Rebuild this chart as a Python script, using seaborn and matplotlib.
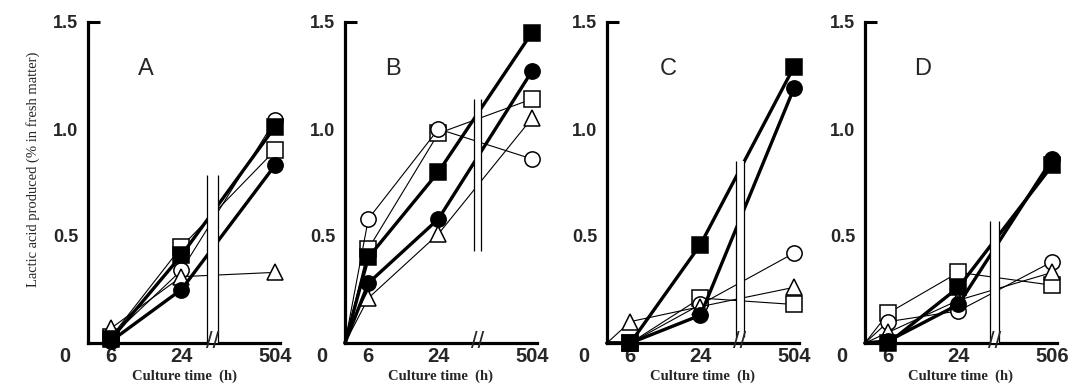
import numpy as np
import pandas as pd
import matplotlib
matplotlib.use("Agg")
import matplotlib.pyplot as plt
import matplotlib.transforms as mtransforms
import seaborn as sns

# Culture time (h) for each panel
times_A = [6, 24, 504]
times_B = [0, 6, 24, 504]
times_C = [0, 6, 24, 504]
times_D = [0, 6, 24, 506]

# Lactic acid produced (% in fresh matter)
# series: filled square, filled circle, open square, open circle, open triangle
A_filled_square = [0.02, 0.41, 1.01]
A_filled_circle = [0.01, 0.25, 0.83]
A_open_square = [0.03, 0.45, 0.90]
A_open_circle = [0.03, 0.34, 1.04]
A_open_triangle = [0.07, 0.31, 0.33]

B_filled_square = [0, 0.40, 0.80, 1.45]
B_filled_circle = [0, 0.28, 0.58, 1.27]
B_open_square = [0, 0.44, 0.98, 1.14]
B_open_circle = [0, 0.58, 1.00, 0.86]
B_open_triangle = [0, 0.21, 0.51, 1.05]

C_filled_square = [0, 0.00, 0.46, 1.29]
C_filled_circle = [0, 0.00, 0.13, 1.19]
C_open_square = [0, 0.00, 0.21, 0.18]
C_open_circle = [0, 0.00, 0.18, 0.42]
C_open_triangle = [0, 0.10, 0.17, 0.26]

D_filled_square = [0, 0.00, 0.26, 0.83]
D_filled_circle = [0, 0.01, 0.18, 0.86]
D_open_square = [0, 0.14, 0.33, 0.27]
D_open_circle = [0, 0.10, 0.15, 0.38]
D_open_triangle = [0, 0.05, 0.20, 0.33]

panel_names = ["A", "B", "C", "D"]
panel_times = [times_A, times_B, times_C, times_D]
panel_series = [
    [A_filled_square, A_filled_circle, A_open_square, A_open_circle, A_open_triangle],
    [B_filled_square, B_filled_circle, B_open_square, B_open_circle, B_open_triangle],
    [C_filled_square, C_filled_circle, C_open_square, C_open_circle, C_open_triangle],
    [D_filled_square, D_filled_circle, D_open_square, D_open_circle, D_open_triangle],
]
last_tick = ["504", "504", "504", "506"]

# marker, face colour, line width, zorder
styles = [
    ("s", "black", 2.4, 6),
    ("o", "black", 2.4, 5),
    ("s", "white", 0.8, 4),
    ("o", "white", 0.8, 4),
    ("^", "white", 0.8, 4),
]

# broken time axis: 0-24 h linear, then compressed
SQUEEZE = 0.05


def fwd(h):
    h = np.asarray(h, dtype=float)
    return np.where(h <= 24, h, 24 + (h - 24) * SQUEEZE)


def inv(p):
    p = np.asarray(p, dtype=float)
    return np.where(p <= 24, p, 24 + (p - 24) / SQUEEZE)


# break lines: (x0, x1) in compressed units, (y0, y1) in data units
breaks = [(30.6, 33.4, 0.0, 0.785), (33.0, 35.0, 0.43, 1.14),
          (33.0, 35.3, 0.03, 0.85), (32.0, 34.4, 0.0, 0.57)]
letter_x = [0.30, 0.25, 0.32, 0.30]

sns.set_style("white")
plt.rcParams["font.family"] = ["Liberation Sans", "DejaVu Sans"]

fig = plt.figure(figsize=(10.75, 3.9), dpi=100)
lefts = [88, 345, 607, 865]
ax_w = 192 / 1075
bottom = 1 - 343 / 390
height = (343 - 22) / 390

for i, name in enumerate(panel_names):
    ax = fig.add_axes([lefts[i] / 1075, bottom, ax_w, height])
    ax.set_xscale("function", functions=(fwd, inv))
    times = panel_times[i]
    start = 1 if times[0] == 0 else 0
    for vals, (mk, fc, lw, z) in zip(panel_series[i], styles):
        df = pd.DataFrame({"time": times, "lactic": vals})
        sns.lineplot(data=df, x="time", y="lactic", ax=ax, color="black",
                     lw=lw, marker=mk, markersize=11 if mk != "^" else 11.5,
                     markerfacecolor=fc, markeredgecolor="black",
                     markeredgewidth=1.1, markevery=slice(start, None),
                     errorbar=None, zorder=z, clip_on=False)

    x0, x1, y0, y1 = breaks[i]
    ax.fill_betweenx([y0, y1], inv(x0), inv(x1), color="white", zorder=7, lw=0)
    ax.vlines([inv(x0), inv(x1)], y0, y1, color="black", lw=0.9, zorder=8)
    trans = mtransforms.blended_transform_factory(ax.transData, ax.transAxes)
    ax.text(inv((x0 + x1) / 2), 0.002, "//", transform=trans, ha="center",
            va="center", fontsize=17, zorder=9)

    ax.set_xlim(0, inv(49.3))
    ax.set_ylim(0, 1.5)
    ax.set_xticks([6, 24, int(last_tick[i])])
    ax.set_xticklabels(["6", "24", last_tick[i]])
    ax.set_yticks([0.5, 1.0, 1.5])
    ax.set_yticklabels(["0.5", "1.0", "1.5"])
    ax.tick_params(axis="x", direction="in", length=8, width=2, pad=3,
                   labelsize=14.5)
    ax.tick_params(axis="y", which="major", direction="out", length=5,
                   width=2, pad=2, labelsize=13)
    for lab in ax.get_xticklabels() + ax.get_yticklabels():
        lab.set_fontweight("bold")
    ax.xaxis.set_minor_locator(matplotlib.ticker.NullLocator())
    # cap at the top of the y axis
    ax.plot([0, 0.065], [1, 1], transform=ax.transAxes, color="black",
            lw=2.2, clip_on=False, solid_capstyle="butt")

    for side in ["top", "right"]:
        ax.spines[side].set_visible(False)
    for side in ["left", "bottom"]:
        ax.spines[side].set_linewidth(2.3)
        ax.spines[side].set_color("black")
    ax.set_xlabel("")
    ax.set_ylabel("")

    ax.annotate("0", xy=(-0.12, 0), xycoords="axes fraction", xytext=(0, -3),
                textcoords="offset points", ha="center", va="top",
                fontsize=14.5, fontweight="bold")
    ax.text(letter_x[i], 0.855, name, transform=ax.transAxes, fontsize=17,
            ha="center", va="center")
    fig.text((lefts[i] + 96) / 1075, 1 - 376 / 390, "Culture time  (h)",
             ha="center", va="center", fontsize=10.5, fontweight="bold",
             family=["Liberation Serif", "DejaVu Serif"])

fig.text(33 / 1075, 1 - 169 / 390, "Lactic acid produced (% in fresh matter)",
         rotation=90, ha="center", va="center", fontsize=10.5,
         family=["Liberation Serif", "DejaVu Serif"])

fig.savefig("out.png", dpi=100)
